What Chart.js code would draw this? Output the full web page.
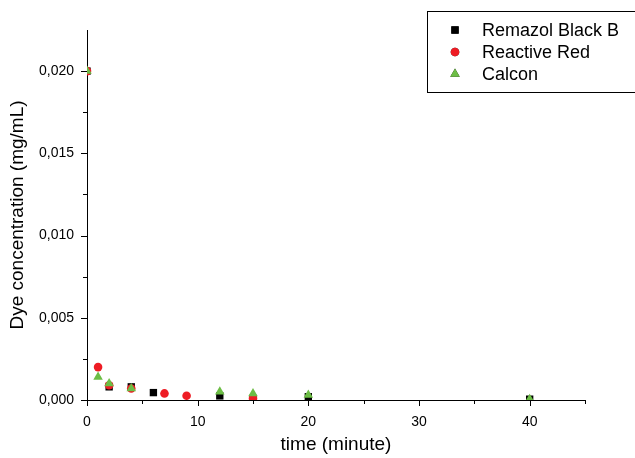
<!DOCTYPE html>
<html>
<head>
<meta charset="utf-8">
<script src="https://cdn.jsdelivr.net/npm/chart.js@4"></script>
<style>
  html, body { margin: 0; padding: 0; background: #fff; }
  #wrap { width: 635px; height: 458px; position: relative; }
</style>
</head>
<body>
<div id="wrap"><canvas id="graph"></canvas></div>
<script>
// values (time in minutes, concentration in mg/mL)
var series_names = ["Remazol Black B", "Reactive Red", "Calcon"];

var black_time = [0, 2, 4, 6, 12, 15, 20, 40];
var black_conc = [0.0200, 0.0008, 0.0008, 0.00045, 0.00025, 0.0001, 0.0002, 0.00005];

var red_time = [0, 1, 2, 4, 7, 9, 15];
var red_conc = [0.0200, 0.0020, 0.0009, 0.0007, 0.0004, 0.00026, 0.0001];

var green_time = [0, 1, 2, 4, 12, 15, 20, 40];
var green_conc = [0.0200, 0.0014, 0.0010, 0.0007, 0.0005, 0.0004, 0.0003, 0.00005];

var x_major = [0, 10, 20, 30, 40];
var y_major = [0.000, 0.005, 0.010, 0.015, 0.020];

function toPoints(xs, ys) {
    return xs.map(function (x, i) { return { x: x, y: ys[i] }; });
}

var font_name = "'Liberation Sans', Arial, sans-serif";

// outward tick marks, long for major values, short for minor ones
var tickPlugin = {
    id: 'ticks',
    afterDraw: function (chart) {
        var ctx = chart.ctx;
        var xs = chart.scales.x, ys = chart.scales.y;
        var area = chart.chartArea;
        ctx.save();
        ctx.strokeStyle = '#000';
        ctx.lineWidth = 1;
        ctx.beginPath();
        for (var v = 0; v <= 45; v += 5) {
            var px = Math.round(xs.getPixelForValue(v)) + 0.5;
            var len = x_major.indexOf(v) >= 0 ? 6 : 4;
            ctx.moveTo(px, area.bottom);
            ctx.lineTo(px, area.bottom + len);
        }
        for (var k = 0; k <= 8; k++) {
            var val = k * 0.0025;
            var py = Math.round(ys.getPixelForValue(val)) + 0.5;
            var l = (k % 2 === 0) ? 6 : 4;
            ctx.moveTo(area.left, py);
            ctx.lineTo(area.left - l, py);
        }
        ctx.stroke();
        ctx.restore();
    }
};

// boxed legend in the upper right corner
var legendPlugin = {
    id: 'boxLegend',
    afterDraw: function (chart) {
        var ctx = chart.ctx;
        ctx.save();
        ctx.strokeStyle = '#000';
        ctx.lineWidth = 1;
        ctx.strokeRect(427.5, 11.5, 220, 81);
        ctx.font = '18px ' + font_name;
        ctx.fillStyle = '#000';
        ctx.textBaseline = 'middle';
        chart.data.datasets.forEach(function (ds, i) {
            var y = 30 + i * 22;
            Chart.helpers.drawPoint(ctx, {
                pointStyle: ds.pointStyle,
                radius: ds.pointRadius,
                rotation: 0,
                borderWidth: 0
            }, 455, y);
            ctx.fillStyle = ds.backgroundColor;
            ctx.fill();
            ctx.fillStyle = '#000';
            ctx.fillText(ds.label, 482, y + 1);
        });
        ctx.restore();
    }
};

var graph_context = document.getElementById('graph').getContext('2d');
var graph = new Chart(graph_context, {
    type: 'scatter',
    data: {
        datasets: [{
            label: series_names[0],
            data: toPoints(black_time, black_conc),
            pointStyle: 'rect',
            pointRadius: 5.2,
            backgroundColor: '#000000',
            borderWidth: 0,
            order: 3
        },
        {
            label: series_names[1],
            data: toPoints(red_time, red_conc),
            pointStyle: 'circle',
            pointRadius: 4.3,
            backgroundColor: '#ee1c24',
            borderWidth: 0,
            order: 2
        },
        {
            label: series_names[2],
            data: toPoints(green_time, green_conc),
            pointStyle: 'triangle',
            pointRadius: 5.5,
            backgroundColor: '#6cbd45',
            borderWidth: 0,
            order: 1
        }]
    },
    options: {
        responsive: true,
        maintainAspectRatio: false,
        animation: false,
        layout: {
            padding: { top: 30, right: 50, left: 0, bottom: 0 }
        },
        scales: {
            x: {
                type: 'linear',
                min: 0,
                max: 45,
                afterFit: function (scale) { scale.height = 58; },
                border: { display: true, color: '#000', width: 1 },
                grid: { display: false },
                ticks: {
                    padding: 6,
                    color: '#000',
                    font: { size: 14, family: font_name },
                    maxRotation: 0
                },
                afterBuildTicks: function (scale) {
                    scale.ticks = x_major.map(function (v) { return { value: v }; });
                },
                title: {
                    display: true,
                    text: 'time (minute)',
                    color: '#000',
                    font: { size: 19, family: font_name },
                    padding: { top: 0, bottom: 2 }
                }
            },
            y: {
                type: 'linear',
                min: 0,
                max: 0.0225,
                afterFit: function (scale) { scale.width = 87; },
                border: { display: true, color: '#000', width: 1 },
                grid: { display: false },
                ticks: {
                    padding: 5,
                    color: '#000',
                    font: { size: 14, family: font_name },
                    callback: function (value) {
                        return value.toFixed(3).replace('.', ',');
                    }
                },
                afterBuildTicks: function (scale) {
                    scale.ticks = y_major.map(function (v) { return { value: v }; });
                },
                title: {
                    display: true,
                    text: 'Dye concentration (mg/mL)',
                    color: '#000',
                    font: { size: 19, family: font_name },
                    padding: { top: 6, bottom: 0 }
                }
            }
        },
        plugins: {
            legend: { display: false },
            tooltip: { enabled: false }
        }
    },
    plugins: [tickPlugin, legendPlugin]
});
</script>
</body>
</html>
